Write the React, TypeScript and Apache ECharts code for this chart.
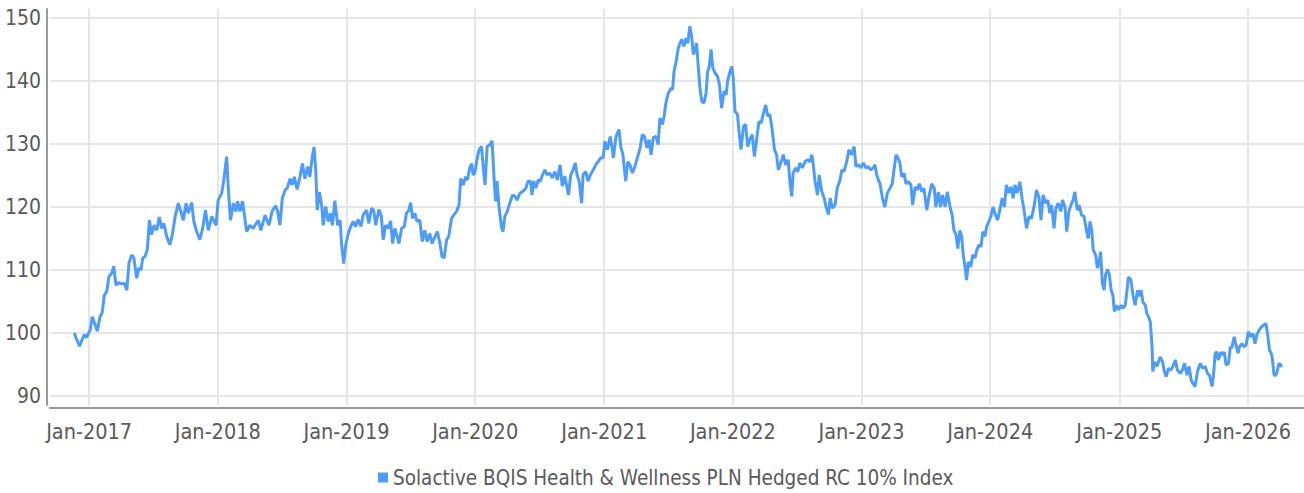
import React, { useEffect, useRef } from "react";
import * as echarts from "echarts";

const SERIES_NAME = "Solactive BQIS Health & Wellness PLN Hedged RC 10% Index";
const X_MIN = "2016-09-12";
const X_MAX = "2026-06-09";
const Y_MIN = 90;
const Y_MAX = 150;
const Y_STEP = 10;
const TICK_YEARS = [2017, 2018, 2019, 2020, 2021, 2022, 2023, 2024, 2025, 2026];

const levels2016: [string, number][] = [
  ["2016-11-20", 100.0], ["2016-11-25", 99.2], ["2016-12-05", 97.9], ["2016-12-11", 98.8],
  ["2016-12-18", 99.7], ["2016-12-25", 99.3],
];
const levels2017: [string, number][] = [
  ["2017-01-04", 100.5], ["2017-01-10", 102.6], ["2017-01-18", 101.3], ["2017-01-24", 100.3],
  ["2017-02-01", 102.6], ["2017-02-07", 103.2], ["2017-02-13", 106.0], ["2017-02-20", 106.6],
  ["2017-02-26", 108.9], ["2017-03-06", 109.5], ["2017-03-12", 110.6], ["2017-03-18", 107.6],
  ["2017-03-25", 108.0], ["2017-04-03", 107.8], ["2017-04-11", 107.9], ["2017-04-18", 106.8],
  ["2017-04-24", 111.1], ["2017-05-02", 112.4], ["2017-05-08", 111.9], ["2017-05-16", 108.7],
  ["2017-05-22", 110.3], ["2017-05-28", 110.0], ["2017-06-02", 111.9], ["2017-06-08", 112.1],
  ["2017-06-15", 113.2], ["2017-06-21", 117.9], ["2017-06-27", 115.6], ["2017-07-04", 117.1],
  ["2017-07-12", 116.3], ["2017-07-19", 118.4], ["2017-07-26", 116.6], ["2017-08-01", 117.4],
  ["2017-08-09", 115.3], ["2017-08-18", 114.0], ["2017-08-25", 115.6], ["2017-09-02", 118.5],
  ["2017-09-11", 120.6], ["2017-09-18", 119.3], ["2017-09-25", 117.9], ["2017-10-03", 120.6],
  ["2017-10-09", 119.0], ["2017-10-19", 120.7], ["2017-10-25", 117.7], ["2017-11-02", 116.1],
  ["2017-11-11", 114.8], ["2017-11-19", 116.6], ["2017-11-27", 119.5], ["2017-12-05", 116.3],
  ["2017-12-15", 118.5], ["2017-12-27", 117.1],
];
const levels2018: [string, number][] = [
  ["2018-01-02", 121.1], ["2018-01-12", 122.2], ["2018-01-18", 124.3], ["2018-01-26", 128.0],
  ["2018-01-31", 122.7], ["2018-02-06", 117.9], ["2018-02-14", 120.6], ["2018-02-21", 119.3],
  ["2018-02-26", 120.9], ["2018-03-05", 119.3], ["2018-03-12", 120.9], ["2018-03-24", 116.1],
  ["2018-04-02", 117.1], ["2018-04-11", 116.6], ["2018-04-26", 117.9], ["2018-05-03", 116.3],
  ["2018-05-15", 118.7], ["2018-05-26", 117.1], ["2018-06-04", 119.3], ["2018-06-14", 120.2],
  ["2018-06-20", 119.3], ["2018-06-26", 117.1], ["2018-07-03", 121.4], ["2018-07-11", 122.7],
  ["2018-07-17", 123.0], ["2018-07-25", 124.5], ["2018-07-31", 123.5], ["2018-08-06", 124.8],
  ["2018-08-14", 122.8], ["2018-08-22", 124.8], ["2018-08-29", 126.9], ["2018-09-05", 124.5],
  ["2018-09-13", 126.4], ["2018-09-19", 124.8], ["2018-09-26", 128.0], ["2018-10-01", 129.5],
  ["2018-10-06", 125.6], ["2018-10-10", 119.5], ["2018-10-16", 122.4], ["2018-10-23", 120.1],
  ["2018-10-27", 117.1], ["2018-11-03", 120.1], ["2018-11-10", 117.7], ["2018-11-17", 119.0],
  ["2018-11-22", 117.1], ["2018-11-29", 121.0], ["2018-12-07", 117.1], ["2018-12-14", 117.9],
  ["2018-12-18", 114.2], ["2018-12-24", 111.0], ["2018-12-30", 114.0],
];
const levels2019: [string, number][] = [
  ["2019-01-06", 115.8], ["2019-01-13", 116.9], ["2019-01-20", 117.7], ["2019-01-27", 116.9],
  ["2019-02-03", 118.0], ["2019-02-11", 116.9], ["2019-02-17", 118.7], ["2019-02-27", 119.5],
  ["2019-03-05", 117.4], ["2019-03-13", 119.8], ["2019-03-19", 119.5], ["2019-03-25", 117.1],
  ["2019-04-03", 119.6], ["2019-04-10", 118.5], ["2019-04-15", 114.8], ["2019-04-22", 117.1],
  ["2019-04-29", 116.6], ["2019-05-06", 117.8], ["2019-05-12", 114.2], ["2019-05-18", 116.6],
  ["2019-05-25", 115.3], ["2019-05-30", 114.2], ["2019-06-06", 116.6], ["2019-06-14", 116.9],
  ["2019-06-20", 119.0], ["2019-06-27", 119.5], ["2019-07-02", 120.7], ["2019-07-07", 118.2],
  ["2019-07-14", 119.0], ["2019-07-20", 117.7], ["2019-07-28", 117.9], ["2019-08-04", 114.5],
  ["2019-08-11", 116.3], ["2019-08-18", 114.5], ["2019-08-25", 115.8], ["2019-09-01", 114.2],
  ["2019-09-09", 115.3], ["2019-09-16", 116.1], ["2019-09-23", 114.2], ["2019-09-29", 112.1],
  ["2019-10-05", 111.9], ["2019-10-12", 114.8], ["2019-10-18", 115.3], ["2019-10-26", 118.2],
  ["2019-11-01", 118.7], ["2019-11-09", 119.3], ["2019-11-16", 120.3], ["2019-11-21", 124.5],
  ["2019-11-28", 123.5], ["2019-12-05", 124.8], ["2019-12-10", 124.3], ["2019-12-17", 126.3],
  ["2019-12-22", 126.9], ["2019-12-26", 125.1], ["2019-12-31", 125.4],
];
const levels2020: [string, number][] = [
  ["2020-01-07", 127.8], ["2020-01-12", 129.1], ["2020-01-19", 129.6], ["2020-01-24", 126.2],
  ["2020-01-29", 123.5], ["2020-02-04", 129.6], ["2020-02-12", 129.9], ["2020-02-18", 130.5],
  ["2020-02-24", 124.1], ["2020-02-28", 120.9], ["2020-03-03", 124.1], ["2020-03-09", 119.8],
  ["2020-03-16", 116.7], ["2020-03-20", 116.1], ["2020-03-25", 118.5], ["2020-04-01", 119.3],
  ["2020-04-08", 120.6], ["2020-04-16", 121.9], ["2020-04-23", 121.7], ["2020-04-29", 121.1],
  ["2020-05-07", 122.2], ["2020-05-16", 122.5], ["2020-05-24", 123.0], ["2020-05-30", 124.1],
  ["2020-06-06", 124.1], ["2020-06-10", 121.9], ["2020-06-15", 124.1], ["2020-06-21", 123.0],
  ["2020-06-28", 124.3], ["2020-07-04", 124.1], ["2020-07-10", 125.1], ["2020-07-17", 125.9],
  ["2020-07-23", 125.1], ["2020-07-31", 125.4], ["2020-08-06", 124.6], ["2020-08-14", 125.6],
  ["2020-08-21", 124.3], ["2020-08-29", 126.7], ["2020-09-04", 123.3], ["2020-09-11", 124.9],
  ["2020-09-16", 123.5], ["2020-09-22", 121.9], ["2020-09-28", 125.1], ["2020-10-05", 125.9],
  ["2020-10-11", 127.0], ["2020-10-16", 125.1], ["2020-10-22", 124.1], ["2020-10-29", 120.6],
  ["2020-11-02", 125.1], ["2020-11-10", 125.6], ["2020-11-16", 124.1], ["2020-11-23", 125.1],
  ["2020-12-01", 125.9], ["2020-12-08", 126.7], ["2020-12-15", 127.2], ["2020-12-22", 127.8],
  ["2020-12-29", 127.8],
];
const levels2021: [string, number][] = [
  ["2021-01-03", 130.4], ["2021-01-10", 129.1], ["2021-01-18", 131.2], ["2021-01-22", 129.9],
  ["2021-01-27", 127.8], ["2021-02-03", 131.0], ["2021-02-07", 131.7], ["2021-02-12", 132.3],
  ["2021-02-17", 129.6], ["2021-02-23", 128.3], ["2021-02-27", 126.2], ["2021-03-03", 124.1],
  ["2021-03-09", 127.2], ["2021-03-15", 126.7], ["2021-03-22", 125.4], ["2021-03-29", 126.4],
  ["2021-04-05", 127.8], ["2021-04-13", 129.4], ["2021-04-19", 131.5], ["2021-04-25", 131.2],
  ["2021-05-02", 129.4], ["2021-05-08", 130.7], ["2021-05-14", 128.3], ["2021-05-20", 131.0],
  ["2021-05-28", 131.2], ["2021-06-03", 129.9], ["2021-06-08", 134.1], ["2021-06-15", 133.1],
  ["2021-06-20", 134.4], ["2021-06-25", 136.5], ["2021-07-02", 138.1], ["2021-07-10", 138.9],
  ["2021-07-14", 138.6], ["2021-07-18", 141.5], ["2021-07-24", 143.1], ["2021-07-30", 145.2],
  ["2021-08-04", 146.0], ["2021-08-09", 146.6], ["2021-08-15", 145.5], ["2021-08-21", 146.8],
  ["2021-08-26", 146.0], ["2021-09-01", 148.7], ["2021-09-06", 147.1], ["2021-09-11", 144.2],
  ["2021-09-16", 145.0], ["2021-09-20", 146.0], ["2021-09-25", 142.1], ["2021-09-30", 138.6],
  ["2021-10-05", 136.8], ["2021-10-11", 136.5], ["2021-10-17", 138.1], ["2021-10-21", 141.3],
  ["2021-10-26", 142.3], ["2021-10-31", 145.0], ["2021-11-05", 142.1], ["2021-11-11", 141.3],
  ["2021-11-18", 140.8], ["2021-11-24", 139.4], ["2021-11-30", 135.7], ["2021-12-07", 138.4],
  ["2021-12-13", 137.8], ["2021-12-17", 140.0], ["2021-12-24", 141.5], ["2021-12-29", 142.3],
];
const levels2022: [string, number][] = [
  ["2022-01-02", 140.5], ["2022-01-07", 135.2], ["2022-01-14", 134.7], ["2022-01-19", 131.7],
  ["2022-01-24", 129.1], ["2022-01-31", 132.8], ["2022-02-06", 133.1], ["2022-02-12", 129.6],
  ["2022-02-18", 130.7], ["2022-02-25", 131.5], ["2022-03-03", 128.0], ["2022-03-10", 131.0],
  ["2022-03-16", 133.6], ["2022-03-22", 133.3], ["2022-03-28", 134.7], ["2022-04-04", 136.2],
  ["2022-04-10", 134.4], ["2022-04-16", 134.7], ["2022-04-23", 132.0], ["2022-04-29", 129.1],
  ["2022-05-05", 128.3], ["2022-05-10", 125.9], ["2022-05-18", 127.2], ["2022-05-24", 128.3],
  ["2022-05-31", 126.7], ["2022-06-07", 127.5], ["2022-06-12", 123.8], ["2022-06-17", 121.7],
  ["2022-06-21", 125.4], ["2022-06-28", 126.2], ["2022-07-04", 125.6], ["2022-07-10", 127.0],
  ["2022-07-17", 126.2], ["2022-07-25", 127.2], ["2022-07-31", 127.5], ["2022-08-08", 127.2],
  ["2022-08-13", 128.3], ["2022-08-17", 126.7], ["2022-08-22", 124.1], ["2022-08-29", 121.9],
  ["2022-09-03", 125.1], ["2022-09-10", 122.5], ["2022-09-17", 121.4], ["2022-09-22", 120.1],
  ["2022-09-29", 118.8], ["2022-10-04", 121.4], ["2022-10-10", 119.8], ["2022-10-18", 120.4],
  ["2022-10-24", 123.0], ["2022-11-01", 124.3], ["2022-11-06", 125.9], ["2022-11-12", 125.6],
  ["2022-11-20", 127.2], ["2022-11-26", 129.1], ["2022-12-04", 128.3], ["2022-12-11", 129.6],
  ["2022-12-16", 126.4], ["2022-12-23", 126.7], ["2022-12-30", 126.2],
];
const levels2023: [string, number][] = [
  ["2023-01-06", 127.0], ["2023-01-13", 126.2], ["2023-01-20", 126.4], ["2023-01-27", 125.9],
  ["2023-02-03", 126.2], ["2023-02-08", 126.7], ["2023-02-13", 125.1], ["2023-02-19", 124.1],
  ["2023-02-22", 123.8], ["2023-03-02", 121.2], ["2023-03-08", 120.0], ["2023-03-15", 122.2],
  ["2023-03-23", 123.0], ["2023-03-29", 123.7], ["2023-04-03", 125.9], ["2023-04-09", 128.3],
  ["2023-04-15", 127.7], ["2023-04-20", 126.9], ["2023-04-25", 124.8], ["2023-05-02", 125.3],
  ["2023-05-07", 123.7], ["2023-05-14", 124.0], ["2023-05-21", 123.5], ["2023-05-26", 120.3],
  ["2023-06-02", 123.2], ["2023-06-08", 122.7], ["2023-06-14", 123.7], ["2023-06-21", 122.4],
  ["2023-06-27", 123.0], ["2023-07-05", 119.5], ["2023-07-11", 121.6], ["2023-07-19", 123.7],
  ["2023-07-26", 123.0], ["2023-07-31", 120.0], ["2023-08-07", 122.4], ["2023-08-13", 120.0],
  ["2023-08-19", 121.9], ["2023-08-26", 120.0], ["2023-09-01", 122.4], ["2023-09-09", 120.0],
  ["2023-09-15", 118.7], ["2023-09-20", 116.3], ["2023-09-26", 115.6], ["2023-10-01", 113.4],
  ["2023-10-07", 116.3], ["2023-10-12", 115.3], ["2023-10-17", 112.1], ["2023-10-21", 110.8],
  ["2023-10-26", 108.4], ["2023-10-31", 111.3], ["2023-11-07", 110.5], ["2023-11-12", 112.4],
  ["2023-11-19", 111.9], ["2023-11-24", 113.2], ["2023-11-30", 114.0], ["2023-12-06", 113.7],
  ["2023-12-11", 116.1], ["2023-12-17", 115.3], ["2023-12-22", 116.9], ["2023-12-28", 117.7],
];
const levels2024: [string, number][] = [
  ["2024-01-03", 118.5], ["2024-01-09", 120.0], ["2024-01-16", 118.7], ["2024-01-22", 117.9],
  ["2024-01-28", 119.5], ["2024-02-04", 121.4], ["2024-02-10", 120.0], ["2024-02-16", 123.5],
  ["2024-02-23", 122.2], ["2024-02-29", 123.2], ["2024-03-06", 121.4], ["2024-03-11", 123.5],
  ["2024-03-17", 122.2], ["2024-03-25", 124.0], ["2024-04-01", 121.1], ["2024-04-06", 119.5],
  ["2024-04-13", 116.6], ["2024-04-20", 118.5], ["2024-04-27", 118.2], ["2024-05-05", 120.3],
  ["2024-05-11", 122.7], ["2024-05-18", 121.6], ["2024-05-24", 117.9], ["2024-05-30", 121.9],
  ["2024-06-06", 120.6], ["2024-06-12", 121.1], ["2024-06-18", 119.0], ["2024-06-23", 120.3],
  ["2024-06-30", 116.6], ["2024-07-05", 119.8], ["2024-07-12", 120.6], ["2024-07-19", 119.3],
  ["2024-07-24", 121.1], ["2024-07-31", 120.0], ["2024-08-05", 116.1], ["2024-08-11", 119.3],
  ["2024-08-17", 120.3], ["2024-08-23", 121.1], ["2024-08-28", 122.4], ["2024-09-04", 119.5],
  ["2024-09-09", 120.3], ["2024-09-16", 118.7], ["2024-09-23", 118.5], ["2024-09-30", 116.3],
  ["2024-10-05", 115.0], ["2024-10-10", 117.7], ["2024-10-15", 116.3], ["2024-10-19", 113.2],
  ["2024-10-26", 112.4], ["2024-10-31", 110.3], ["2024-11-04", 111.1], ["2024-11-09", 112.9],
  ["2024-11-14", 107.9], ["2024-11-19", 106.8], ["2024-11-23", 109.2], ["2024-11-29", 110.1],
  ["2024-12-04", 109.2], ["2024-12-09", 106.8], ["2024-12-14", 106.0], ["2024-12-18", 103.4],
  ["2024-12-23", 104.4], ["2024-12-30", 103.7],
];
const levels2025: [string, number][] = [
  ["2025-01-06", 104.4], ["2025-01-11", 103.9], ["2025-01-18", 104.4], ["2025-01-23", 106.8],
  ["2025-01-27", 108.9], ["2025-02-03", 108.4], ["2025-02-09", 106.0], ["2025-02-15", 104.4],
  ["2025-02-22", 106.8], ["2025-02-27", 105.8], ["2025-03-04", 106.8], ["2025-03-09", 104.9],
  ["2025-03-16", 104.4], ["2025-03-20", 103.1], ["2025-03-25", 102.6], ["2025-03-30", 101.8],
  ["2025-04-04", 97.8], ["2025-04-06", 93.9], ["2025-04-11", 95.4], ["2025-04-18", 94.7],
  ["2025-04-22", 95.4], ["2025-04-27", 96.2], ["2025-05-04", 95.4], ["2025-05-09", 93.9],
  ["2025-05-14", 93.1], ["2025-05-21", 94.4], ["2025-05-27", 94.1], ["2025-06-02", 94.7],
  ["2025-06-09", 95.7], ["2025-06-15", 94.1], ["2025-06-23", 93.6], ["2025-06-29", 94.1],
  ["2025-07-05", 95.2], ["2025-07-12", 93.3], ["2025-07-18", 94.7], ["2025-07-24", 92.5],
  ["2025-07-29", 92.0], ["2025-08-04", 91.5], ["2025-08-11", 93.9], ["2025-08-19", 95.2],
  ["2025-08-25", 94.4], ["2025-09-02", 94.7], ["2025-09-08", 93.6], ["2025-09-14", 93.3],
  ["2025-09-21", 91.5], ["2025-09-25", 93.1], ["2025-09-30", 96.8], ["2025-10-05", 97.0],
  ["2025-10-09", 95.7], ["2025-10-16", 97.0], ["2025-10-21", 96.5], ["2025-10-26", 97.0],
  ["2025-10-31", 94.9], ["2025-11-07", 95.2], ["2025-11-12", 97.8], ["2025-11-16", 97.6],
  ["2025-11-23", 99.4], ["2025-11-28", 98.1], ["2025-12-04", 96.8], ["2025-12-08", 97.8],
  ["2025-12-15", 98.3], ["2025-12-21", 97.8], ["2025-12-27", 98.1],
];
const levels2026: [string, number][] = [
  ["2026-01-02", 100.2], ["2026-01-09", 99.4], ["2026-01-15", 99.9], ["2026-01-21", 98.3],
  ["2026-01-26", 99.7], ["2026-02-02", 100.5], ["2026-02-09", 101.0], ["2026-02-16", 101.3],
  ["2026-02-21", 101.5], ["2026-02-26", 99.7], ["2026-03-03", 97.3], ["2026-03-08", 96.8],
  ["2026-03-11", 96.0], ["2026-03-16", 93.3], ["2026-03-21", 93.3], ["2026-03-25", 93.9],
  ["2026-03-30", 95.2], ["2026-04-04", 94.9], ["2026-04-07", 94.6],
];

const FONT = "'DejaVu Sans Condensed', 'Liberation Sans Narrow', sans-serif";
const TEXT_COLOR = "#5a5a5a";
const GRID_COLOR = "#e6e6e6";
const AXIS_COLOR = "#9a9a9a";
const LINE_COLOR = "#4d9cf8";

const toTime = (d: string) => new Date(d + "T00:00:00").getTime();

export default function App() {
  const ref = useRef<HTMLDivElement>(null);

  useEffect(() => {
    document.body.style.margin = "0";
    if (!ref.current) return;
    const chart = echarts.init(ref.current, undefined, { renderer: "svg" });

    const allLevels = [
      ...levels2016, ...levels2017, ...levels2018, ...levels2019, ...levels2020,
      ...levels2021, ...levels2022, ...levels2023, ...levels2024, ...levels2025, ...levels2026,
    ];
    const tickTimes = TICK_YEARS.map((y) => new Date(y, 0, 1).getTime());
    const xMin = toTime(X_MIN);
    const xMax = toTime(X_MAX);

    chart.setOption({
      animation: false,
      textStyle: { fontFamily: FONT },
      grid: [
        { left: 50, right: 0, top: 18, height: 378 },
        { left: 50, right: 0, top: 9, height: 396 },
      ],
      legend: {
        left: 378,
        top: 467,
        padding: 0,
        icon: "rect",
        itemWidth: 10,
        itemHeight: 10,
        data: [SERIES_NAME],
        textStyle: { fontFamily: FONT, fontSize: 20.5, color: TEXT_COLOR },
      },
      xAxis: [
        {
          type: "value",
          gridIndex: 0,
          min: xMin,
          max: xMax,
          show: false,
          splitLine: { show: false },
        },
        {
          type: "value",
          gridIndex: 1,
          min: xMin,
          max: xMax,
          offset: 3,
          axisLine: { show: true, onZero: false, lineStyle: { color: AXIS_COLOR, width: 2 } },
          axisTick: { show: false },
          axisLabel: { show: false },
          splitLine: { show: false },
        },
      ],
      yAxis: [
        {
          type: "value",
          gridIndex: 0,
          min: Y_MIN,
          max: Y_MAX,
          interval: Y_STEP,
          axisLine: { show: false },
          axisTick: { show: false },
          axisLabel: {
            fontFamily: FONT,
            fontSize: 21,
            color: TEXT_COLOR,
            margin: 9,
            padding: [5, 0, 0, 0],
          },
          splitLine: { show: true, lineStyle: { color: GRID_COLOR, width: 2 } },
        },
        {
          type: "value",
          gridIndex: 1,
          min: 0,
          max: 1,
          offset: 3,
          axisLine: { show: true, onZero: false, lineStyle: { color: AXIS_COLOR, width: 2 } },
          axisTick: { show: false },
          axisLabel: { show: false },
          splitLine: { show: false },
        },
      ],
      series: [
        {
          name: "yearGrid",
          type: "line",
          xAxisIndex: 1,
          yAxisIndex: 1,
          data: tickTimes.map((t) => [t, 0]),
          symbol: "none",
          silent: true,
          lineStyle: { opacity: 0 },
          z: 1,
          markLine: {
            silent: true,
            symbol: ["none", "none"],
            lineStyle: { color: GRID_COLOR, width: 2, type: "solid" },
            label: {
              show: true,
              position: "start",
              distance: 15,
              fontFamily: FONT,
              fontSize: 21.5,
              color: TEXT_COLOR,
              formatter: (p: any) => "Jan-" + new Date(p.value).getFullYear(),
            },
            data: tickTimes.map((t) => ({ xAxis: t })),
          },
        },
        {
          name: SERIES_NAME,
          type: "line",
          xAxisIndex: 0,
          yAxisIndex: 0,
          data: allLevels.map(([d, v]) => [toTime(d), v]),
          showSymbol: false,
          symbol: "none",
          lineStyle: { color: LINE_COLOR, width: 3 },
          itemStyle: { color: LINE_COLOR },
          z: 5,
        },
      ],
    });

    return () => chart.dispose();
  }, []);

  return <div ref={ref} style={{ width: 1304, height: 493 }} />;
}
